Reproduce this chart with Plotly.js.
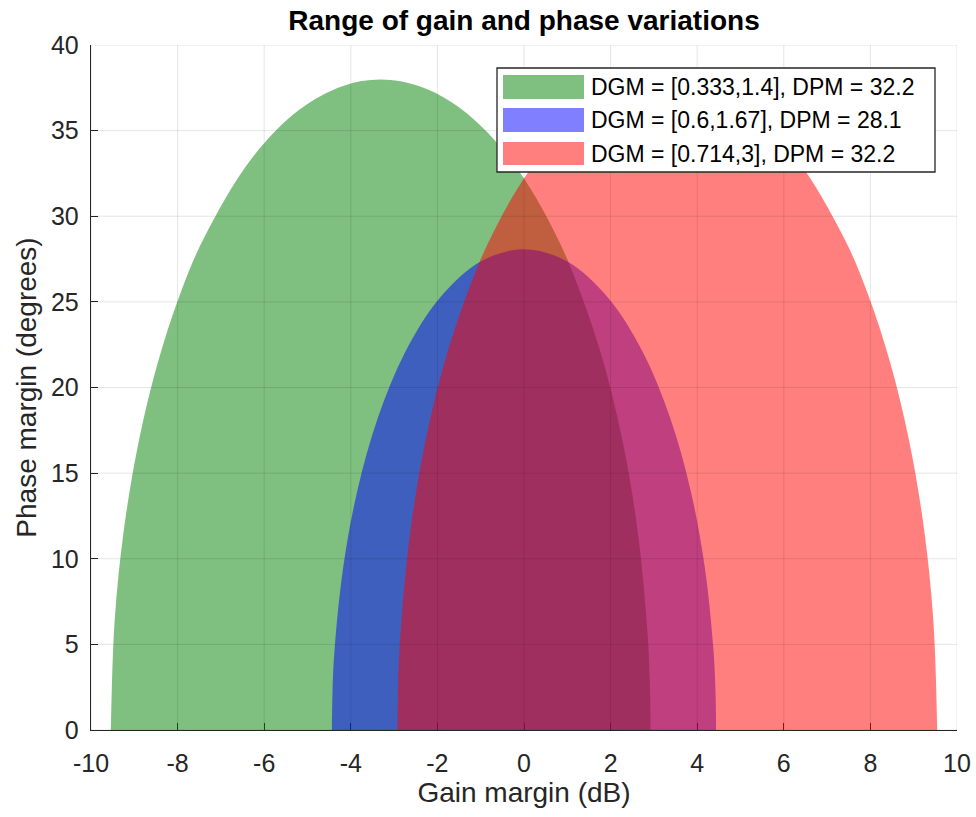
<!DOCTYPE html>
<html>
<head>
<meta charset="utf-8">
<script src="https://cdn.plot.ly/plotly-3.0.1.min.js"></script>
<style>html,body{margin:0;padding:0;background:#fff;}#chart{width:976px;height:817px;}</style>
</head>
<body>
<div id="chart"></div>
<script>
// Boundary points of each gain/phase variation region (gain dB, phase deg)
const greenGain  = [2.923, 2.905, 2.852, 2.639, 2.277, 1.755, 1.055, 0.630, 0.152, -0.386, -0.989, -1.663, -2.416, -3.31, -4.181, -5.198, -6.290, -7.411, -7.954, -8.458, -8.898, -9.244, -9.455, -9.542];
const greenPhase = [0, 2.86, 5.70, 11.35, 16.87, 22.17, 27.15, 29.45, 31.61, 33.56, 35.26, 36.64, 37.59, 37.98, 37.61, 36.20, 33.37, 28.63, 25.37, 21.44, 16.85, 11.64, 6.34, 0];

const blueGain  = [4.437, 4.421, 4.372, 4.176, 3.845, 3.371, 2.746, 1.956, 0.990, 0, -0.990, -1.956, -2.746, -3.371, -3.845, -4.176, -4.372, -4.421, -4.437];
const bluePhase = [0, 2.40, 4.79, 9.49, 14.02, 18.26, 22.06, 25.20, 27.37, 28.07, 27.37, 25.20, 22.06, 18.26, 14.02, 9.49, 4.79, 2.40, 0];

const redGain  = [-2.923, -2.905, -2.852, -2.639, -2.277, -1.755, -1.055, -0.630, -0.152, 0.386, 0.989, 1.663, 2.416, 3.31, 4.181, 5.198, 6.290, 7.411, 7.954, 8.458, 8.898, 9.244, 9.455, 9.542];
const redPhase = [0, 2.86, 5.70, 11.35, 16.87, 22.17, 27.15, 29.45, 31.61, 33.56, 35.26, 36.64, 37.59, 37.98, 37.61, 36.20, 33.37, 28.63, 25.37, 21.44, 16.85, 11.64, 6.34, 0];

const seriesNames = ['DGM = [0.333,1.4], DPM = 32.2', 'DGM = [0.6,1.67], DPM = 28.1', 'DGM = [0.714,3], DPM = 32.2'];
const xTicks = [-10, -8, -6, -4, -2, 0, 2, 4, 6, 8, 10];
const yTicks = [0, 5, 10, 15, 20, 25, 30, 35, 40];

const fills = ['rgba(0,128,0,0.5)', 'rgba(0,0,255,0.5)', 'rgba(255,0,0,0.5)'];
const xs = [greenGain, blueGain, redGain];
const ys = [greenPhase, bluePhase, redPhase];

const traces = xs.map((x, i) => ({
  type: 'scatter', mode: 'lines', x: x, y: ys[i],
  fill: 'toself', fillcolor: fills[i],
  line: {width: 0, shape: 'spline', smoothing: 1.0, color: fills[i]},
  name: seriesNames[i], hoverinfo: 'skip', showlegend: false
}));

// plot area in pixels
const PL = 91, PR = 957, PT = 45, PB = 730;
const fx = px => (px - PL) / (PR - PL);
const fy = py => (PB - py) / (PB - PT);

const font = 'Liberation Sans, Arial, Helvetica, sans-serif';
const axisCommon = {
  showgrid: false,
  zeroline: false, showline: true, linecolor: '#262626', linewidth: 1.3,
  ticks: 'inside', ticklen: 7, tickcolor: '#262626', tickwidth: 1,
  tickfont: {family: font, size: 25, color: '#262626'},
  layer: 'below traces', mirror: false
};

const layout = {
  width: 976, height: 817,
  margin: {l: PL, r: 976 - PR, t: PT, b: 817 - PB},
  paper_bgcolor: '#fff', plot_bgcolor: '#fff',
  title: {text: '<b>Range of gain and phase variations</b>', font: {family: font, size: 28, color: '#000'}, x: 0.5, xref: 'paper', xanchor: 'center', y: 1 - 20/817, yanchor: 'middle'},
  xaxis: Object.assign({}, axisCommon, {range: [-10, 10], tickvals: xTicks, ticktext: xTicks.map(String), ticklabelstandoff: 11,
    title: {text: 'Gain margin (dB)', font: {family: font, size: 28, color: '#262626'}, standoff: 6}}),
  yaxis: Object.assign({}, axisCommon, {range: [0, 40], tickvals: yTicks, ticktext: yTicks.map(String), ticklabelstandoff: 6,
    title: {text: 'Phase margin (degrees)', font: {family: font, size: 28, color: '#262626'}, standoff: 6}}),
  showlegend: false,
  shapes: [],
  annotations: []
};

// grid lines drawn above the patches, like the reference
xTicks.forEach(v => layout.shapes.push({type: 'line', xref: 'x', yref: 'paper', x0: v, x1: v, y0: 0, y1: 1, layer: 'above', line: {color: 'rgba(0,0,0,0.1)', width: 1}}));
yTicks.forEach(v => layout.shapes.push({type: 'line', xref: 'paper', yref: 'y', x0: 0, x1: 1, y0: v, y1: v, layer: 'above', line: {color: 'rgba(0,0,0,0.1)', width: 1}}));

// legend box (drawn manually to get wide filled swatches)
layout.shapes.push({type: 'rect', xref: 'paper', yref: 'paper', x0: fx(497), x1: fx(935), y0: fy(172), y1: fy(68), layer: 'above', fillcolor: '#fff', line: {color: '#262626', width: 1.3}});
const rowTop = [75, 108, 142];
const rowBot = [99, 132, 165];
seriesNames.forEach((name, i) => {
  layout.shapes.push({type: 'rect', xref: 'paper', yref: 'paper', x0: fx(503), x1: fx(584), y0: fy(rowBot[i]), y1: fy(rowTop[i]), layer: 'above', fillcolor: fills[i], line: {width: 0}});
  layout.annotations.push({xref: 'paper', yref: 'paper', x: fx(589), y: fy((rowTop[i] + rowBot[i]) / 2), xanchor: 'left', yanchor: 'middle', showarrow: false, text: name, font: {family: font, size: 23, color: '#000'}});
});

Plotly.newPlot('chart', traces, layout, {displayModeBar: false, staticPlot: true});
</script>
</body>
</html>
